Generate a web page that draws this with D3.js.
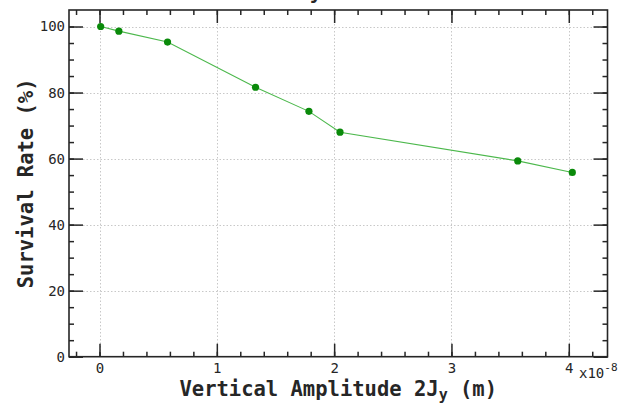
<!DOCTYPE html>
<html><head><meta charset="utf-8">
<script src="https://cdn.jsdelivr.net/npm/d3@7"></script>
<style>
html,body{margin:0;padding:0;background:#fff;}
svg{display:block;}
</style>
</head><body>
<script>
// Data (x in metres, y in %)
const amplitude = [0.01e-8, 0.165e-8, 0.58e-8, 1.33e-8, 1.785e-8, 2.05e-8, 3.565e-8, 4.03e-8];
const survival  = [100.0, 98.6, 95.3, 81.6, 74.3, 68.0, 59.3, 55.8];
const xMajorTicks = [0, 1e-8, 2e-8, 3e-8, 4e-8];
const yMajorTicks = [0, 20, 40, 60, 80, 100];
const xExponent = -8;
const titleText = "Survival Rate by Vertical Action";
const xLabelMain = "Vertical Amplitude 2J";
const xLabelSub = "y";
const xLabelUnit = " (m)";
const yLabel = "Survival Rate (%)";

const W = 621, H = 403;
const L = 69, R = 607.5, T = 10, B = 356.7;
const svg = d3.select("body").append("svg").attr("width", W).attr("height", H);
svg.append("rect").attr("width", W).attr("height", H).attr("fill", "#fff");

const x = d3.scaleLinear().domain([-0.26e-8, 4.33e-8]).range([L, R]);
const y = d3.scaleLinear().domain([0, 105]).range([B, T]);

const mono = "'DejaVu Sans Mono', monospace";
const axisCol = "#262626";

// Title (mostly above the visible area, as in the reference)
svg.append("text").attr("x", 322).attr("y", -1.5).attr("text-anchor", "middle")
  .attr("font-family", mono).attr("font-weight", "bold").attr("font-size", 20)
  .attr("fill", axisCol).text(titleText);

// Grid
const grid = svg.append("g").attr("stroke", "#c8c8c8").attr("stroke-width", 1).attr("stroke-dasharray", "1.5,2");
grid.selectAll("line.gx").data(xMajorTicks).enter().append("line")
  .attr("x1", d => Math.round(x(d)) + 0.5).attr("x2", d => Math.round(x(d)) + 0.5)
  .attr("y1", T).attr("y2", B);
grid.selectAll("line.gy").data(yMajorTicks.filter(d => d > 0)).enter().append("line")
  .attr("y1", d => Math.round(y(d)) + 0.5).attr("y2", d => Math.round(y(d)) + 0.5)
  .attr("x1", L).attr("x2", R);

// Minor tick values
const xMinor = d3.range(-2, 43, 2).map(v => v * 1e-9).filter(v => x(v) > L && x(v) < R);
const yMinor = d3.range(0, 105, 5);

function styleAxis(g) {
  g.select(".domain").remove();
  g.selectAll(".tick line").attr("stroke", axisCol).attr("stroke-width", 1.5);
  g.selectAll(".tick text").attr("font-family", mono).attr("font-size", 14).attr("fill", axisCol);
}
const fmtX = d => d3.format("d")(Math.round(d / Math.pow(10, xExponent)));

// Minor ticks
svg.append("g").attr("transform", `translate(0,${B})`).call(d3.axisBottom(x).tickValues(xMinor).tickSize(-5).tickFormat("")).call(styleAxis);
svg.append("g").attr("transform", `translate(0,${T})`).call(d3.axisTop(x).tickValues(xMinor).tickSize(-5).tickFormat("")).call(styleAxis);
svg.append("g").attr("transform", `translate(${L},0)`).call(d3.axisLeft(y).tickValues(yMinor).tickSize(-5).tickFormat("")).call(styleAxis);
svg.append("g").attr("transform", `translate(${R},0)`).call(d3.axisRight(y).tickValues(yMinor).tickSize(-5).tickFormat("")).call(styleAxis);

// Major ticks
svg.append("g").attr("transform", `translate(0,${B})`)
  .call(d3.axisBottom(x).tickValues(xMajorTicks).tickSize(-13).tickPadding(6).tickFormat(fmtX)).call(styleAxis);
svg.append("g").attr("transform", `translate(0,${T})`)
  .call(d3.axisTop(x).tickValues(xMajorTicks).tickSize(-13).tickFormat("")).call(styleAxis);
svg.append("g").attr("transform", `translate(${L},0)`)
  .call(d3.axisLeft(y).tickValues(yMajorTicks).tickSize(-14).tickPadding(4).tickFormat(d3.format("d"))).call(styleAxis);
svg.append("g").attr("transform", `translate(${R},0)`)
  .call(d3.axisRight(y).tickValues(yMajorTicks).tickSize(-14).tickFormat("")).call(styleAxis);

// Frame
svg.append("rect").attr("x", L).attr("y", T).attr("width", R - L).attr("height", B - T)
  .attr("fill", "none").attr("stroke", axisCol).attr("stroke-width", 1.6);

// Exponent label
const ex = svg.append("text").attr("x", 579).attr("y", 378)
  .attr("font-family", mono).attr("font-size", 14).attr("fill", axisCol);
ex.append("tspan").text("x10");
ex.append("tspan").attr("dy", -7).attr("font-size", 11).text(String(xExponent));

// Line and markers
const line = d3.line().x((d, i) => x(amplitude[i])).y(d => y(d));
svg.append("path").datum(survival).attr("d", line)
  .attr("fill", "none").attr("stroke", "#4cb84c").attr("stroke-width", 1.1);
svg.selectAll("circle.pt").data(survival).enter().append("circle")
  .attr("cx", (d, i) => x(amplitude[i])).attr("cy", d => y(d)).attr("r", 3.6)
  .attr("fill", "#0a8a0a");

// Axis titles
const xt = svg.append("text").attr("x", (L + R) / 2).attr("y", 396).attr("text-anchor", "middle")
  .attr("font-family", mono).attr("font-weight", "bold").attr("font-size", 20.5).attr("fill", axisCol);
xt.append("tspan").text(xLabelMain);
xt.append("tspan").attr("dy", 4).attr("font-size", 15).text(xLabelSub);
xt.append("tspan").attr("dy", -4).text(xLabelUnit);

svg.append("text").attr("transform", `translate(33,${(T + B) / 2}) rotate(-90)`)
  .attr("text-anchor", "middle")
  .attr("font-family", mono).attr("font-weight", "bold").attr("font-size", 20.5).attr("fill", axisCol)
  .text(yLabel);
</script>
</body></html>
